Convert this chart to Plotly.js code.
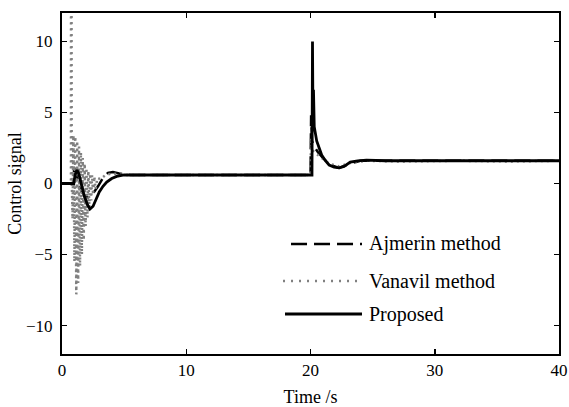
<!DOCTYPE html>
<html>
<head>
<meta charset="utf-8">
<script src="https://cdn.plot.ly/plotly-3.0.1.min.js"></script>
<style>html,body{margin:0;padding:0;background:#fff;}#chart{width:569px;height:407px;}</style>
</head>
<body>
<div id="chart"></div>
<script>
// Proposed (solid black)
const proposedT = [0, 0.95, 1.05, 1.2, 1.35, 1.55, 1.8, 2.05, 2.25, 2.5, 2.75, 3.0, 3.3, 3.6, 4.0, 4.4, 5.0, 10, 20.0, 20.12, 20.16, 20.2, 20.24, 20.3, 20.4, 20.5, 20.7, 20.9, 21.2, 21.5, 21.9, 22.3, 22.7, 23.2, 23.8, 24.5, 26, 30, 35, 40];
const proposedY = [0, 0, 0.6, 0.95, 0.7, 0.0, -0.9, -1.5, -1.8, -1.6, -1.1, -0.6, -0.2, 0.1, 0.35, 0.5, 0.6, 0.6, 0.6, 0.6, 10, 4.5, 6.6, 4.0, 3.4, 3.0, 2.5, 2.0, 1.6, 1.3, 1.15, 1.1, 1.2, 1.5, 1.6, 1.65, 1.6, 1.6, 1.6, 1.6];

// Ajmerin method (dashed black)
const ajmerinT = [0, 0.92, 0.98, 1.1, 1.3, 1.5, 1.8, 2.1, 2.5, 2.9, 3.3, 3.7, 4.1, 4.6, 5.5, 10, 20.0, 20.05, 20.12, 20.3, 20.6, 21.0, 21.6, 22.3, 23.2, 24.0, 30, 40];
const ajmerinY = [0, 0, 1.1, 0.9, 0.2, -0.4, -0.9, -1.0, -0.7, -0.2, 0.4, 0.75, 0.8, 0.7, 0.6, 0.6, 0.6, 4.8, 3.0, 2.6, 2.2, 1.8, 1.3, 1.1, 1.4, 1.6, 1.6, 1.6];

// Vanavil method (dotted gray)
const vanavilT = [0, 0.72, 0.74, 0.78, 0.85, 0.92, 1.0, 1.07, 1.15, 1.22, 1.3, 1.37, 1.45, 1.52, 1.6, 1.67, 1.75, 1.82, 1.9, 1.97, 2.05, 2.12, 2.2, 2.27, 2.35, 2.42, 2.5, 2.6, 2.7, 2.85, 3.1, 3.5, 4.0, 5.0, 10, 20.0, 20.04, 20.1, 20.3, 20.6, 21.0, 21.5, 22.3, 23.2, 24.5, 27, 32, 36, 40];
const vanavilY = [0, 0, 40, 0.5, -2.5, 3.4, -5.5, 3.3, -7.8, 3.0, -7.0, 2.6, -5.8, 2.2, -5.0, 1.8, -4.0, 1.4, -3.0, 1.1, -2.4, 0.9, -1.7, 0.7, -1.2, 0.6, -0.8, 0.5, -0.4, 0.4, 0.3, 0.6, 0.7, 0.6, 0.6, 0.6, 3.2, 2.4, 2.2, 2.0, 1.7, 1.4, 1.2, 1.45, 1.6, 1.55, 1.6, 1.55, 1.6];

const seriesNames = ['Ajmerin method', 'Vanavil method', 'Proposed'];
const xTicks = [0, 10, 20, 30, 40];
const yTicks = [-10, -5, 0, 5, 10];

const FONT = "'Liberation Serif', 'Times New Roman', serif";

const styles = [
  {color: '#000000', width: 2.5, dash: '16px,7px'},
  {color: '#808080', width: 2.5, dash: '2px,4px'},
  {color: '#000000', width: 2.8, dash: 'solid'}
];

const traces = [
  {x: ajmerinT, y: ajmerinY, name: seriesNames[0], mode: 'lines', line: styles[0], showlegend: false},
  {x: vanavilT, y: vanavilY, name: seriesNames[1], mode: 'lines', line: styles[1], showlegend: false},
  {x: proposedT, y: proposedY, name: seriesNames[2], mode: 'lines', line: styles[2], showlegend: false}
];

// manual legend (paper coordinates)
const legY = [0.3226, 0.2141, 0.1173];
const legX0 = [0.4608, 0.4447, 0.4487];
const legX1 = 0.6036;
const shapes = [];
const annotations = [];
for (let i = 0; i < 3; i++) {
  shapes.push({type: 'line', xref: 'paper', yref: 'paper', x0: legX0[i], x1: legX1, y0: legY[i], y1: legY[i],
    line: {color: styles[i].color, width: styles[i].width, dash: i === 1 ? '2px,6px' : styles[i].dash}});
  annotations.push({xref: 'paper', yref: 'paper', x: 0.6137, y: legY[i], xanchor: 'left', yanchor: 'middle',
    text: seriesNames[i], showarrow: false, font: {family: FONT, size: 20, color: '#000'}});
}

const axisCommon = {
  showline: true, linecolor: '#000', linewidth: 2, mirror: 'ticks',
  ticks: 'inside', ticklen: 5, tickwidth: 1.5, tickcolor: '#000',
  showgrid: false, zeroline: false,
  tickfont: {family: FONT, size: 17, color: '#000'}
};

const layout = {
  width: 569, height: 407,
  margin: {l: 62, r: 10, t: 13, b: 53},
  paper_bgcolor: '#fff', plot_bgcolor: '#fff',
  showlegend: false,
  font: {family: FONT},
  xaxis: Object.assign({}, axisCommon, {range: [0, 40], tickvals: xTicks, ticktext: xTicks.map(String),
    title: {text: 'Time /s', font: {family: FONT, size: 18, color: '#000'}, standoff: 11}}),
  yaxis: Object.assign({}, axisCommon, {range: [-12, 12], tickvals: yTicks,
    ticklabelstandoff: 4,
    title: {text: 'Control signal', font: {family: FONT, size: 18, color: '#000'}, standoff: 0}}),
  shapes: shapes,
  annotations: annotations
};

Plotly.newPlot('chart', traces, layout, {displayModeBar: false, staticPlot: true});
</script>
</body>
</html>
